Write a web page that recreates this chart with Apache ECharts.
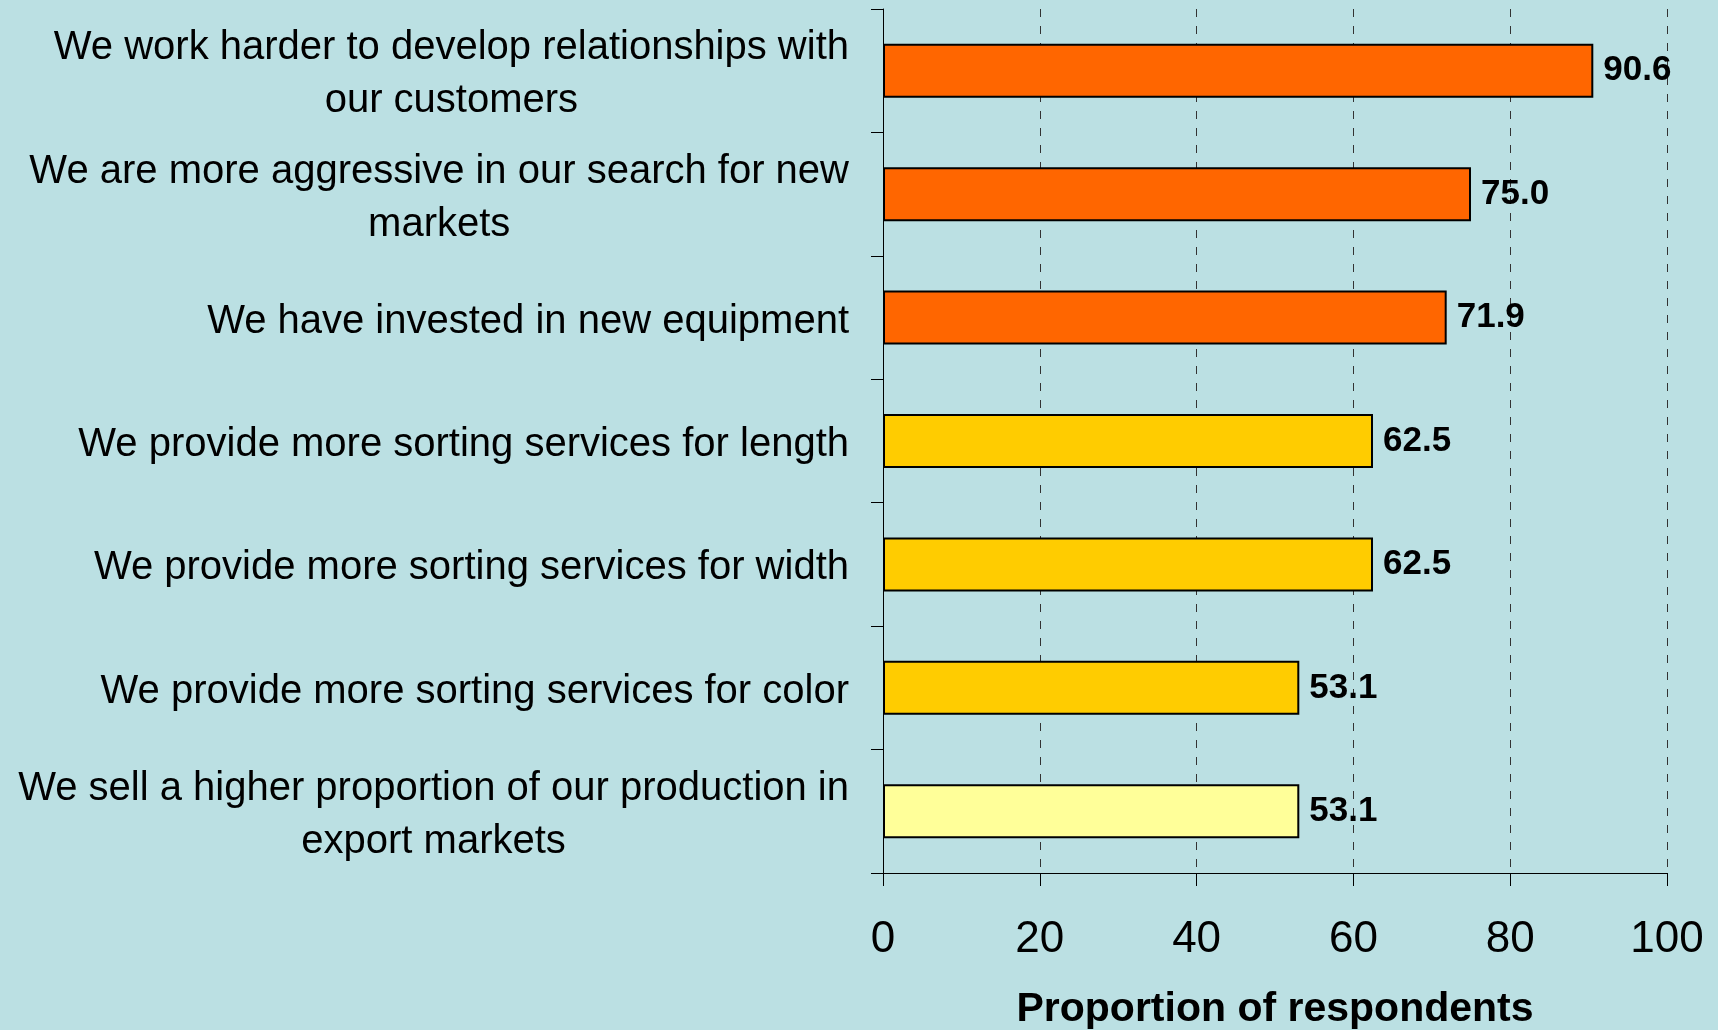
<!DOCTYPE html>
<html>
<head>
<meta charset="utf-8">
<script src="https://cdn.jsdelivr.net/npm/echarts@6/dist/echarts.min.js"></script>
<style>
  html, body { margin: 0; padding: 0; background: #BBE0E3; }
  #chart { width: 1718px; height: 1030px; }
</style>
</head>
<body>
<div id="chart"></div>
<script>
const categories = [
  'We work harder to develop relationships with\nour customers',
  'We are more aggressive in our search for new\nmarkets',
  'We have invested in new equipment',
  'We provide more sorting services for length',
  'We provide more sorting services for width',
  'We provide more sorting services for color',
  'We sell a higher proportion of our production in\nexport markets'
];
const values = [90.6, 75.0, 71.9, 62.5, 62.5, 53.1, 53.1];
const xTicks = [0, 20, 40, 60, 80, 100];
const axisTitle = 'Proportion of respondents';

// fill per bar
const barColors = ['#FF6600', '#FF6600', '#FF6600', '#FFCC00', '#FFCC00', '#FFCC00', '#FFFF99'];

const font = '"Liberation Sans", Arial, sans-serif';

const chart = echarts.init(document.getElementById('chart'));

chart.setOption({
  backgroundColor: '#BBE0E3',
  animation: false,
  grid: { left: 883, right: 51, top: 9, bottom: 157, containLabel: false, outerBoundsMode: 'none' },
  xAxis: {
    type: 'value',
    min: xTicks[0],
    max: xTicks[xTicks.length - 1],
    interval: 20,
    name: axisTitle,
    nameLocation: 'middle',
    nameGap: 116,
    nameTextStyle: { fontFamily: font, fontSize: 41, fontWeight: 'bold', color: '#000' },
    axisLine: { show: true, lineStyle: { color: '#000', width: 1 } },
    axisTick: { show: true, length: 13, lineStyle: { color: '#000' } },
    axisLabel: { fontFamily: font, fontSize: 44, color: '#000', margin: 45 },
    splitLine: {
      show: true,
      lineStyle: { color: '#333', type: [8, 9], width: 1 }
    }
  },
  yAxis: {
    type: 'category',
    data: categories,
    inverse: true,
    axisLine: { show: true, lineStyle: { color: '#000', width: 1 } },
    axisTick: { show: true, length: 12, alignWithLabel: false, lineStyle: { color: '#000' } },
    axisLabel: {
      margin: 34,
      align: 'right',
      padding: [8, 0, 0, 0],
      fontFamily: font,
      fontSize: 40,
      color: '#000',
      formatter: function (v) {
        return v.split('\n').map(l => '{c|' + l + '}').join('\n');
      },
      rich: {
        c: { align: 'center', fontFamily: font, fontSize: 40, lineHeight: 53, color: '#000' }
      }
    },
    splitLine: { show: false }
  },
  series: [{
    type: 'bar',
    data: values.map((v, i) => ({ value: v, itemStyle: { color: barColors[i] } })),
    barWidth: 54,
    itemStyle: { borderColor: '#000', borderWidth: 2 },
    label: {
      show: true,
      position: 'right',
      distance: 10,
      formatter: p => p.value.toFixed(1),
      fontFamily: font,
      fontSize: 35,
      fontWeight: 'bold',
      color: '#000'
    }
  }]
});
</script>
</body>
</html>
